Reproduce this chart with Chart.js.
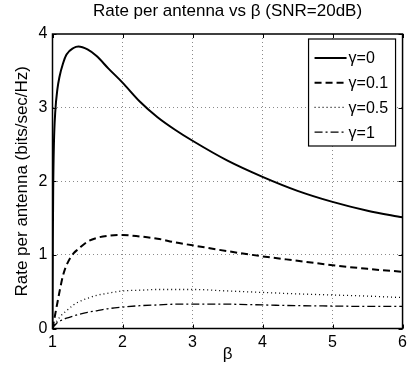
<!DOCTYPE html>
<html>
<head>
<meta charset="utf-8">
<script src="https://cdn.jsdelivr.net/npm/chart.js@4/dist/chart.umd.min.js"></script>
<style>
  body { margin: 0; background: #fff; }
  #wrap { width: 411px; height: 379px; }
</style>
</head>
<body>
<div id="wrap"><canvas id="rateChart"></canvas></div>
<script>
const betas   = [1, 1.005, 1.01, 1.02, 1.04, 1.07, 1.1, 1.15, 1.2, 1.3, 1.37, 1.5, 1.63, 1.8, 2, 2.25, 2.5, 2.75, 3, 3.5, 4, 4.5, 5, 5.5, 6];
const rateG0  = [0, 1.2, 1.9, 2.5, 2.95, 3.25, 3.42, 3.6, 3.72, 3.81, 3.83, 3.79, 3.70, 3.53, 3.34, 3.08, 2.87, 2.70, 2.55, 2.28, 2.06, 1.87, 1.72, 1.60, 1.51];
const rateG01 = [0, 0.02, 0.05, 0.1, 0.2, 0.35, 0.5, 0.72, 0.86, 1.02, 1.08, 1.18, 1.23, 1.26, 1.27, 1.25, 1.22, 1.17, 1.13, 1.05, 0.98, 0.92, 0.86, 0.81, 0.77];
const rateG05 = [0, 0.01, 0.02, 0.04, 0.07, 0.11, 0.15, 0.2, 0.24, 0.32, 0.36, 0.41, 0.45, 0.48, 0.51, 0.52, 0.53, 0.53, 0.53, 0.51, 0.49, 0.47, 0.455, 0.44, 0.42];
const rateG1  = [0, 0.01, 0.015, 0.03, 0.05, 0.08, 0.1, 0.12, 0.14, 0.17, 0.19, 0.22, 0.24, 0.27, 0.29, 0.31, 0.32, 0.33, 0.33, 0.33, 0.32, 0.31, 0.305, 0.30, 0.30];
const seriesLabels = ['\u03b3=0', '\u03b3=0.1', '\u03b3=0.5', '\u03b3=1'];

Chart.defaults.font.family = "'Liberation Sans', Arial, sans-serif";
Chart.defaults.color = '#000';

const toPoints = ys => betas.map((b, i) => ({ x: b, y: ys[i] }));

function lineSet(label, ys, dash, width) {
  return {
    label,
    data: toPoints(ys),
    borderColor: '#000',
    borderWidth: width,
    borderDash: dash,
    pointRadius: 0,
    fill: false,
    cubicInterpolationMode: 'monotone'
  };
}

// box around the axes plus matlab-style inward ticks
const axesBox = {
  id: 'axesBox',
  afterDraw(chart) {
    const { ctx, chartArea: a, scales } = chart;
    ctx.save();
    ctx.strokeStyle = '#000';
    ctx.lineWidth = 1;
    ctx.beginPath();
    scales.x.ticks.forEach(t => {
      const px = Math.round(scales.x.getPixelForValue(t.value)) + 0.5;
      ctx.moveTo(px, a.bottom); ctx.lineTo(px, a.bottom - 4);
      ctx.moveTo(px, a.top); ctx.lineTo(px, a.top + 4);
    });
    scales.y.ticks.forEach(t => {
      const py = Math.round(scales.y.getPixelForValue(t.value)) + 0.5;
      ctx.moveTo(a.left, py); ctx.lineTo(a.left + 4, py);
      ctx.moveTo(a.right, py); ctx.lineTo(a.right - 4, py);
    });
    ctx.stroke();
    ctx.lineWidth = 1.5;
    ctx.strokeRect(a.left, a.top, a.right - a.left, a.bottom - a.top);
    ctx.restore();
  }
};

// legend box inside the top right corner
const boxLegend = {
  id: 'boxLegend',
  afterDraw(chart) {
    const { ctx, chartArea: a } = chart;
    const w = 87, h = 107;
    const bx = a.right - 94, by = a.top + 5;
    ctx.save();
    ctx.fillStyle = '#fff';
    ctx.fillRect(bx, by, w, h);
    ctx.strokeStyle = '#000';
    ctx.lineWidth = 1.2;
    ctx.setLineDash([]);
    ctx.strokeRect(bx, by, w, h);
    ctx.font = "16px 'Liberation Sans', Arial, sans-serif";
    ctx.textBaseline = 'middle';
    ctx.fillStyle = '#000';
    chart.data.datasets.forEach((ds, i) => {
      const y = by + 19 + i * 24.7;
      ctx.beginPath();
      ctx.lineWidth = ds.borderWidth;
      ctx.setLineDash(ds.borderDash || []);
      ctx.moveTo(bx + 6, y);
      ctx.lineTo(bx + 38, y);
      ctx.stroke();
      ctx.setLineDash([]);
      ctx.fillText(ds.label, bx + 40, y + 1);
    });
    ctx.restore();
  }
};

const edgeless = (min, max) => ctx =>
  (ctx.tick && (ctx.tick.value === min || ctx.tick.value === max)) ? 'rgba(0,0,0,0)' : '#8a8a8a';

new Chart(document.getElementById('rateChart'), {
  type: 'line',
  data: {
    datasets: [
      lineSet(seriesLabels[0], rateG0, [], 2),
      lineSet(seriesLabels[1], rateG01, [7, 4], 2),
      lineSet(seriesLabels[2], rateG05, [1, 3], 1.3),
      lineSet(seriesLabels[3], rateG1, [8, 3, 2, 3], 1.3)
    ]
  },
  options: {
    responsive: true,
    maintainAspectRatio: false,
    animation: false,
    layout: { padding: { left: 0, right: 8, top: 0, bottom: 0 } },
    plugins: {
      legend: { display: false },
      tooltip: { enabled: false },
      title: {
        display: true,
        text: 'Rate per antenna vs \u03b2 (SNR=20dB)',
        fullSize: false,
        font: { size: 17, weight: 'normal' },
        padding: { top: 1, bottom: 12.6 }
      }
    },
    scales: {
      x: {
        type: 'linear',
        min: 1,
        max: 6,
        afterFit: s => { s.height = 50.5; },
        ticks: { stepSize: 1, padding: 4, font: { size: 16 } },
        grid: { color: edgeless(1, 6), drawTicks: false },
        border: { display: false, dash: [1, 3] },
        title: { display: true, text: '\u03b2', font: { size: 17 }, padding: { top: 0, bottom: 14 } }
      },
      y: {
        min: 0,
        max: 4,
        afterFit: s => { s.width = 52.5; },
        ticks: { stepSize: 1, padding: 5, font: { size: 16 } },
        grid: { color: edgeless(0, 4), drawTicks: false },
        border: { display: false, dash: [1, 3] },
        title: { display: true, text: 'Rate per antenna (bits/sec/Hz)', font: { size: 17 }, padding: { top: 12, bottom: 0 } }
      }
    }
  },
  plugins: [axesBox, boxLegend]
});
</script>
</body>
</html>
